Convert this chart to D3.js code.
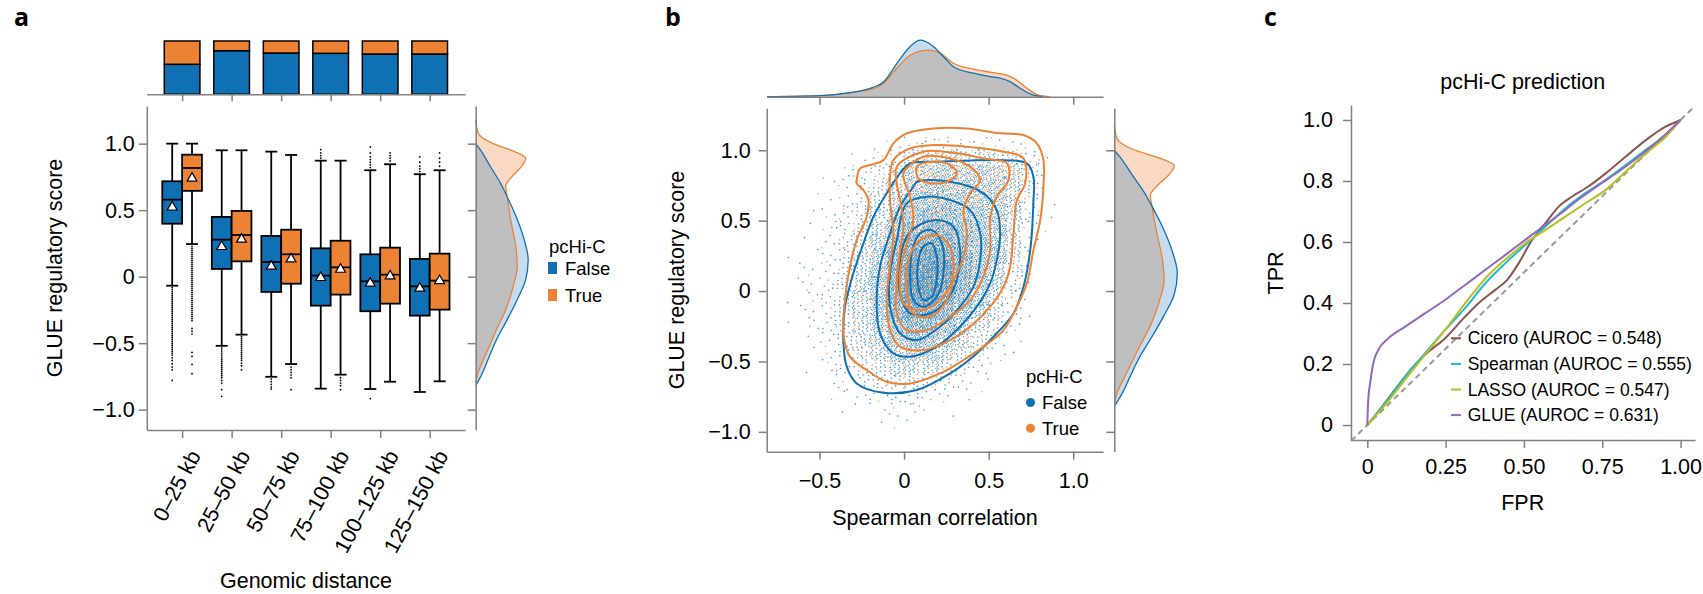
<!DOCTYPE html>
<html>
<head>
<meta charset="utf-8">
<script src="https://cdn.jsdelivr.net/npm/d3@7"></script>
<style>
  body { margin: 0; background: #fff; }
</style>
</head>
<body>
<div id="chart"></div>
<script>
// ---------- data ----------
const distanceBins = ["0–25 kb", "25–50 kb", "50–75 kb", "75–100 kb", "100–125 kb", "125–150 kb"];
const hicGroups = ["False", "True"];

// share of pcHi-C supported pairs per bin (top bars)
const trueFraction = [0.437, 0.182, 0.225, 0.231, 0.244, 0.244];

// box statistics, pcHi-C False
const whiskHiFalse = [1.0, 0.95, 0.94, 0.872, 0.8, 0.77];
const q3False = [0.717, 0.449, 0.306, 0.213, 0.168, 0.133];
const medFalse = [0.579, 0.278, 0.11, 0.008, -0.035, -0.073];
const q1False = [0.398, 0.058, -0.115, -0.218, -0.26, -0.293];
const whiskLoFalse = [-0.068, -0.52, -0.753, -0.842, -0.845, -0.867];
const meanFalse = [0.53, 0.233, 0.085, 0.0, -0.043, -0.08];

// box statistics, pcHi-C True
const whiskHiTrue = [1.0, 0.95, 0.915, 0.872, 0.845, 0.8];
const q3True = [0.917, 0.494, 0.353, 0.27, 0.218, 0.173];
const medTrue = [0.817, 0.313, 0.168, 0.07, 0.015, -0.03];
const q1True = [0.645, 0.115, -0.053, -0.135, -0.203, -0.248];
const whiskLoTrue = [0.245, -0.436, -0.657, -0.737, -0.79, -0.787];
const meanTrue = [0.747, 0.288, 0.14, 0.062, 0.012, -0.023];

// fliers
const fliersFalse = [
  [-0.08,-0.095,-0.11,-0.125,-0.14,-0.155,-0.17,-0.185,-0.2,-0.215,-0.23,-0.245,-0.26,-0.275,-0.29,-0.305,-0.32,-0.335,-0.35,-0.365,-0.38,-0.395,-0.41,-0.425,-0.44,-0.455,-0.47,-0.485,-0.5,-0.515,-0.53,-0.545,-0.56,-0.575,-0.59,-0.61,-0.63,-0.655,-0.68,-0.7,-0.78],
  [-0.535,-0.55,-0.565,-0.58,-0.595,-0.61,-0.625,-0.64,-0.655,-0.67,-0.685,-0.7,-0.715,-0.73,-0.745,-0.76,-0.78,-0.8,-0.85,-0.9],
  [-0.77,-0.79,-0.81,-0.83,-0.845],
  [0.89,0.91,0.93,0.955],
  [0.82,0.84,0.86,0.88,0.9,0.93,0.975,-0.917],
  [0.79,0.81,0.83,0.86,0.9]
];
const fliersTrue = [
  [0.225,0.21,0.195,0.18,0.165,0.15,0.135,0.12,0.105,0.09,0.075,0.06,0.045,0.03,0.015,0.0,-0.015,-0.03,-0.045,-0.06,-0.075,-0.09,-0.105,-0.12,-0.135,-0.15,-0.165,-0.18,-0.195,-0.21,-0.225,-0.24,-0.255,-0.27,-0.285,-0.3,-0.315,-0.33,-0.39,-0.41,-0.43,-0.57,-0.6,-0.66,-0.73],
  [-0.45,-0.465,-0.48,-0.495,-0.51,-0.525,-0.54,-0.555,-0.57,-0.585,-0.6,-0.615,-0.63,-0.65,-0.67,-0.7],
  [-0.68,-0.7,-0.72,-0.74,-0.76,-0.85],
  [-0.76,-0.78,-0.8,-0.82,-0.85],
  [0.87,0.89,0.91,0.93],
  [0.83,0.86,0.89,0.93]
];

// GLUE score density by pcHi-C (value, density)
const glueDensFalse = [[1.0,0],[0.955,0.09],[0.83,0.29],[0.7,0.5],[0.6,0.63],[0.45,0.81],[0.278,0.97],[0.128,1.05],[-0.023,1.0],[-0.173,0.83],[-0.323,0.63],[-0.47,0.42],[-0.62,0.25],[-0.72,0.14],[-0.82,0]];
const glueDensTrue = [[1.18,0],[1.08,0.05],[1.0,0.35],[0.955,0.68],[0.89,1.0],[0.83,0.92],[0.75,0.72],[0.68,0.6],[0.6,0.63],[0.45,0.69],[0.2,0.81],[0.077,0.83],[-0.073,0.75],[-0.22,0.63],[-0.42,0.39],[-0.57,0.22],[-0.72,0.05],[-0.8,0]];

// Spearman correlation density by pcHi-C (value, density)
const spearDensFalse = [[-0.81,0],[-0.497,0.02],[-0.32,0.08],[-0.18,0.19],[-0.12,0.3],[-0.043,0.66],[0.016,0.93],[0.095,1.13],[0.164,1.03],[0.233,0.8],[0.292,0.6],[0.41,0.47],[0.509,0.4],[0.568,0.37],[0.627,0.3],[0.686,0.17],[0.765,0.03],[0.82,0]];
const spearDensTrue = [[-0.81,0],[-0.497,0.02],[-0.32,0.08],[-0.18,0.16],[-0.12,0.27],[-0.043,0.57],[0.036,0.83],[0.145,0.93],[0.213,0.87],[0.292,0.67],[0.41,0.55],[0.528,0.48],[0.607,0.43],[0.667,0.33],[0.726,0.17],[0.795,0.03],[0.86,0]];

// binned scatter counts (rows top->bottom at gridY, columns at gridX, cell 0.1 x 0.1)
const gridX = [-0.65,-0.55,-0.45,-0.35,-0.25,-0.15,-0.05,0.05,0.15,0.25,0.35,0.45,0.55,0.65,0.75,0.85,0.95];
const gridY = [1.05,0.95,0.85,0.75,0.65,0.55,0.45,0.35,0.25,0.15,0.05,-0.05,-0.15,-0.25,-0.35,-0.45,-0.55,-0.65,-0.75,-0.85,-0.95];
const gridCounts = [
  [0,0,0,0,0,1,3,4,6,6,6,4,4,3,1,0,0],
  [0,0,0,1,1,4,8,17,22,24,22,21,20,15,6,1,0],
  [0,0,1,3,6,10,20,36,45,48,46,43,39,31,11,1,0],
  [0,0,1,3,7,13,25,42,50,50,48,45,41,31,10,1,0],
  [0,1,1,4,8,15,31,50,59,57,53,48,41,28,8,1,0],
  [0,1,3,6,11,20,39,62,73,70,62,52,42,25,7,1,0],
  [0,1,3,7,14,25,50,78,87,81,70,57,42,22,6,1,0],
  [0,1,4,8,17,32,64,95,104,95,78,60,42,20,4,0,0],
  [1,1,4,10,20,39,78,115,123,109,84,60,39,17,3,0,0],
  [1,3,4,11,22,45,90,129,134,118,87,57,34,13,3,0,0],
  [1,3,6,13,25,48,92,132,134,115,81,52,28,10,1,0,0],
  [1,3,6,13,25,48,90,123,123,101,67,41,21,7,1,0,0],
  [1,3,6,13,24,45,81,106,104,81,53,31,15,6,1,0,0],
  [1,3,6,11,22,39,67,84,78,59,39,21,10,4,0,0,0],
  [0,1,4,10,18,31,52,63,57,42,27,13,6,1,0,0,0],
  [0,1,4,8,14,24,36,42,36,27,15,7,3,1,0,0,0],
  [0,1,3,6,10,15,22,25,22,15,8,4,1,0,0,0,0],
  [0,0,1,3,6,10,13,14,11,7,4,1,0,0,0,0,0],
  [0,0,1,1,3,4,6,6,4,3,1,1,0,0,0,0,0],
  [0,0,0,1,1,1,3,3,1,1,0,0,0,0,0,0,0],
  [0,0,0,0,0,1,1,1,0,0,0,0,0,0,0,0,0]
];
const gridTrueShare = [0.5,0.45,0.4,0.32,0.26,0.22,0.2,0.18,0.17,0.16,0.16,0.16,0.16,0.17,0.18,0.2,0.2,0.2,0.2,0.2,0.2];

// density contour rings (Spearman, GLUE score)
const contoursFalse = [
  [[0.036,0.907],[0.193,0.919],[0.371,0.926],[0.548,0.93],[0.726,0.907],[0.765,0.812],[0.765,0.646],[0.746,0.291],[0.706,0.031],[0.647,-0.159],[0.548,-0.3],[0.43,-0.443],[0.272,-0.585],[0.075,-0.703],[-0.122,-0.722],[-0.28,-0.656],[-0.339,-0.537],[-0.359,-0.348],[-0.349,-0.111],[-0.3,0.126],[-0.24,0.339],[-0.181,0.528],[-0.103,0.694],[-0.024,0.836]],
  [[0.075,0.776],[0.272,0.776],[0.469,0.694],[0.548,0.575],[0.568,0.41],[0.548,0.22],[0.509,0.055],[0.43,-0.111],[0.331,-0.253],[0.193,-0.395],[0.036,-0.466],[-0.063,-0.443],[-0.142,-0.3],[-0.162,-0.064],[-0.142,0.173],[-0.083,0.41],[-0.024,0.599],[0.055,0.741]],
  [[0.016,0.623],[0.134,0.67],[0.272,0.646],[0.391,0.575],[0.45,0.41],[0.45,0.22],[0.41,0.031],[0.331,-0.111],[0.213,-0.253],[0.075,-0.348],[-0.024,-0.3],[-0.083,-0.111],[-0.083,0.126],[-0.043,0.362]],
  [[0.075,0.457],[0.193,0.504],[0.292,0.457],[0.331,0.291],[0.312,0.078],[0.253,-0.064],[0.154,-0.159],[0.036,-0.159],[-0.024,-0.017],[-0.024,0.22],[0.016,0.386]],
  [[0.095,0.41],[0.164,0.433],[0.223,0.339],[0.233,0.126],[0.193,-0.04],[0.114,-0.111],[0.055,-0.064],[0.036,0.126],[0.055,0.315]],
  [[0.114,0.315],[0.164,0.339],[0.193,0.244],[0.193,0.078],[0.164,-0.04],[0.114,-0.064],[0.085,0.031],[0.085,0.22]]
];
const contoursTrue = [
  [[-0.28,0.788],[-0.26,0.871],[-0.201,0.895],[-0.122,0.93],[-0.063,1.049],[0.016,1.12],[0.174,1.155],[0.371,1.155],[0.568,1.12],[0.706,1.108],[0.785,1.049],[0.824,0.93],[0.824,0.741],[0.805,0.504],[0.765,0.291],[0.726,0.055],[0.667,-0.111],[0.588,-0.277],[0.469,-0.395],[0.351,-0.49],[0.213,-0.585],[0.036,-0.656],[-0.103,-0.644],[-0.221,-0.561],[-0.32,-0.466],[-0.359,-0.3],[-0.349,-0.064],[-0.32,0.173],[-0.28,0.362],[-0.221,0.528],[-0.211,0.646],[-0.24,0.717],[-0.28,0.765]],
  [[-0.063,0.93],[0.036,1.013],[0.193,1.037],[0.371,1.025],[0.588,0.99],[0.706,0.942],[0.716,0.765],[0.667,0.646],[0.647,0.41],[0.627,0.173],[0.588,0.031],[0.509,-0.111],[0.391,-0.253],[0.272,-0.348],[0.114,-0.419],[-0.024,-0.395],[-0.083,-0.277],[-0.103,-0.064],[-0.083,0.173],[-0.063,0.41],[-0.083,0.646],[-0.083,0.812]],
  [[-0.043,0.883],[0.114,0.99],[0.312,0.978],[0.469,0.942],[0.608,0.907],[0.617,0.788],[0.548,0.67],[0.509,0.528],[0.509,0.291],[0.469,0.102],[0.391,-0.064],[0.272,-0.182],[0.134,-0.277],[0.016,-0.277],[-0.043,-0.159],[-0.043,0.055],[-0.024,0.291],[-0.004,0.457],[-0.024,0.646],[-0.043,0.765]],
  [[-0.004,0.836],[0.114,0.954],[0.272,0.942],[0.391,0.883],[0.45,0.788],[0.391,0.694],[0.351,0.575],[0.371,0.41],[0.351,0.244],[0.292,0.078],[0.193,-0.088],[0.075,-0.135],[-0.004,-0.088],[-0.024,0.126],[0.016,0.339],[0.055,0.504],[0.036,0.67],[0.006,0.765]],
  [[0.075,0.883],[0.174,0.919],[0.272,0.895],[0.312,0.836],[0.253,0.776],[0.154,0.765],[0.085,0.8]],
  [[0.095,0.362],[0.193,0.398],[0.272,0.315],[0.292,0.126],[0.253,-0.064],[0.154,-0.182],[0.055,-0.159],[0.016,0.007],[0.026,0.22]]
];

// ROC curves (FPR, TPR)
const rocMethods = ["Cicero", "Spearman", "LASSO", "GLUE"];
const rocAuroc = [0.548, 0.555, 0.547, 0.631];
const rocCicero = [[0,0],[0.035,0.044],[0.088,0.115],[0.142,0.186],[0.195,0.24],[0.248,0.284],[0.302,0.344],[0.355,0.399],[0.408,0.443],[0.446,0.475],[0.483,0.53],[0.526,0.607],[0.568,0.661],[0.611,0.716],[0.654,0.749],[0.697,0.776],[0.761,0.825],[0.825,0.88],[0.889,0.934],[0.952,0.978],[1,1]];
const rocSpearman = [[0,0],[0.057,0.071],[0.12,0.158],[0.184,0.235],[0.248,0.311],[0.312,0.383],[0.376,0.464],[0.44,0.53],[0.504,0.59],[0.568,0.65],[0.632,0.71],[0.696,0.76],[0.76,0.803],[0.825,0.852],[0.889,0.902],[0.953,0.951],[1,1]];
const rocLasso = [[0,0],[0.057,0.066],[0.12,0.148],[0.184,0.23],[0.248,0.311],[0.312,0.399],[0.387,0.492],[0.451,0.552],[0.504,0.596],[0.568,0.639],[0.632,0.683],[0.696,0.727],[0.76,0.77],[0.825,0.831],[0.889,0.891],[0.953,0.945],[1,1]];
const rocGlue = [[0,0],[0.003,0.082],[0.009,0.137],[0.019,0.202],[0.035,0.246],[0.067,0.284],[0.12,0.322],[0.184,0.366],[0.248,0.41],[0.312,0.459],[0.376,0.508],[0.44,0.557],[0.504,0.607],[0.568,0.656],[0.632,0.705],[0.675,0.74],[0.739,0.787],[0.803,0.831],[0.867,0.88],[0.931,0.934],[1,1]];

// ---------- styles ----------
const font = "'Liberation Sans', Arial, Helvetica, sans-serif";
const axisColor = "#808080";
const blue = "#0f71b3";
const orange = "#ec8234";
const blueFill = "#c6dcee";
const orangeFill = "#f9d9c4";
const overlapFill = "#bfbfbf";
const rocColors = ["#8c564b", "#17becf", "#bcbd22", "#9467bd"];
const tickFmt = (d) => (d === 0 ? "0" : d3.format(".1f")(d));

const svg = d3.select("#chart").append("svg")
  .attr("width", 1703)
  .attr("height", 594)
  .attr("font-family", font);

function styleAxis(g, size) {
  g.attr("font-family", font).attr("font-size", size || 21.5);
  g.select(".domain").attr("stroke", axisColor).attr("stroke-width", 1.5);
  g.selectAll(".tick line").attr("stroke", axisColor).attr("stroke-width", 1.5);
  g.selectAll(".tick text").attr("fill", "#000");
}

function panelLetter(x, t) {
  svg.append("text").attr("x", x).attr("y", 26)
    .attr("font-family", "'Open Sans', 'DejaVu Sans', sans-serif")
    .attr("font-weight", "bold").attr("font-size", 25).text(t);
}

// draws two overlapping densities, overlap in gray
function densityPair(g, dFalse, dTrue, area, id) {
  g.append("clipPath").attr("id", id).append("path").attr("d", area(dFalse));
  g.append("path").attr("d", area(dFalse)).attr("fill", blueFill);
  g.append("path").attr("d", area(dTrue)).attr("fill", orangeFill);
  g.append("path").attr("d", area(dTrue)).attr("fill", overlapFill).attr("clip-path", `url(#${id})`);
}

// ================= panel a =================
panelLetter(14, "a");

const xA = d3.scaleLinear().domain([-0.713, 5.713]).range([146.8, 465]);
const yA = d3.scaleLinear().domain([-1.153, 1.283]).range([430, 106]);
const fracA = d3.scaleLinear().domain([0, 1]).range([94.3, 41]);

// top stacked bars
const gBars = svg.append("g");
distanceBins.forEach((bin, i) => {
  const x0 = xA(i - 0.36), w = xA(0.72) - xA(0);
  gBars.append("rect").attr("x", x0).attr("width", w)
    .attr("y", fracA(1 - trueFraction[i])).attr("height", fracA(0) - fracA(1 - trueFraction[i]))
    .attr("fill", blue).attr("stroke", "#000").attr("stroke-width", 1.5);
  gBars.append("rect").attr("x", x0).attr("width", w)
    .attr("y", fracA(1)).attr("height", fracA(1 - trueFraction[i]) - fracA(1))
    .attr("fill", orange).attr("stroke", "#000").attr("stroke-width", 1.5);
});
gBars.append("g").attr("transform", "translate(0,94.3)")
  .call(d3.axisBottom(xA).tickValues(d3.range(6)).tickFormat("").tickSize(7).tickSizeOuter(0))
  .call(styleAxis);

// axes of main box panel
svg.append("g").attr("transform", "translate(146.8,0)")
  .call(d3.axisLeft(yA).tickValues([-1, -0.5, 0, 0.5, 1]).tickFormat(tickFmt).tickSize(8).tickSizeOuter(0).tickPadding(4))
  .call(styleAxis);

const xAxisA = svg.append("g").attr("transform", "translate(0,430)")
  .call(d3.axisBottom(xA).tickValues(d3.range(6)).tickFormat((i) => distanceBins[i]).tickSize(8).tickSizeOuter(0))
  .call(styleAxis);
xAxisA.selectAll(".tick text")
  .attr("x", 0).attr("y", 0).attr("dy", "0.35em")
  .attr("text-anchor", "end")
  .attr("transform", "translate(12,22) rotate(-62)");

svg.append("text").attr("x", 306).attr("y", 588).attr("text-anchor", "middle")
  .attr("font-size", 21.5).text("Genomic distance");
svg.append("text").attr("transform", "translate(62,268) rotate(-90)").attr("text-anchor", "middle")
  .attr("font-size", 21.5).text("GLUE regulatory score");

// boxes
const boxes = distanceBins.flatMap((bin, i) => [
  { i, hue: "False", off: -0.2, lo: whiskLoFalse[i], q1: q1False[i], med: medFalse[i], q3: q3False[i], hi: whiskHiFalse[i], mean: meanFalse[i], fliers: fliersFalse[i] },
  { i, hue: "True", off: 0.2, lo: whiskLoTrue[i], q1: q1True[i], med: medTrue[i], q3: q3True[i], hi: whiskHiTrue[i], mean: meanTrue[i], fliers: fliersTrue[i] }
]);
const halfBox = xA(0.2) - xA(0);
const gBox = svg.append("g");
boxes.forEach((b) => {
  const cx = xA(b.i + b.off);
  const col = b.hue === "False" ? blue : orange;
  const g = gBox.append("g").attr("stroke", "#000").attr("stroke-width", 1.8);
  g.append("line").attr("x1", cx).attr("x2", cx).attr("y1", yA(b.q3)).attr("y2", yA(b.hi));
  g.append("line").attr("x1", cx).attr("x2", cx).attr("y1", yA(b.q1)).attr("y2", yA(b.lo));
  g.append("line").attr("x1", cx - 6).attr("x2", cx + 6).attr("y1", yA(b.hi)).attr("y2", yA(b.hi));
  g.append("line").attr("x1", cx - 6).attr("x2", cx + 6).attr("y1", yA(b.lo)).attr("y2", yA(b.lo));
  g.append("rect").attr("x", cx - halfBox).attr("width", 2 * halfBox)
    .attr("y", yA(b.q3)).attr("height", yA(b.q1) - yA(b.q3)).attr("fill", col);
  g.append("line").attr("x1", cx - halfBox).attr("x2", cx + halfBox).attr("y1", yA(b.med)).attr("y2", yA(b.med));
  g.selectAll("circle").data(b.fliers).join("circle")
    .attr("cx", cx).attr("cy", (d) => yA(d)).attr("r", 0.9)
    .attr("fill", "#000").attr("stroke", "none");
  g.append("path").attr("d", d3.symbol(d3.symbolTriangle).size(42)())
    .attr("transform", `translate(${cx},${yA(b.mean) + 1})`)
    .attr("fill", "#fff").attr("stroke-width", 1.2);
});

// marginal density (GLUE score)
const densA = d3.scaleLinear().domain([0, 1]).range([475.7, 525.7]);
const areaA = d3.area().curve(d3.curveMonotoneY)
  .y((d) => yA(d[0])).x0(densA(0)).x1((d) => densA(d[1]));
const lineA = d3.line().curve(d3.curveMonotoneY).y((d) => yA(d[0])).x((d) => densA(d[1]));
const gMargA = svg.append("g");
const sortV = (arr) => arr.slice().sort((a, b) => a[0] - b[0]);
densityPair(gMargA, sortV(glueDensFalse), sortV(glueDensTrue), areaA, "clipA");
gMargA.append("path").attr("d", lineA(sortV(glueDensTrue))).attr("fill", "none").attr("stroke", orange).attr("stroke-width", 1.3);
gMargA.append("path").attr("d", lineA(sortV(glueDensFalse))).attr("fill", "none").attr("stroke", blue).attr("stroke-width", 1.3);
gMargA.append("g").attr("transform", "translate(475.7,0)")
  .call(d3.axisLeft(yA).tickValues([-1, -0.5, 0, 0.5, 1]).tickFormat("").tickSize(8).tickSizeOuter(0))
  .call(styleAxis);

// legend a
const legA = svg.append("g").attr("font-size", 18.5);
legA.append("text").attr("x", 549).attr("y", 253).text("pcHi-C");
hicGroups.forEach((h, k) => {
  legA.append("rect").attr("x", 548).attr("y", 262 + k * 27).attr("width", 9).attr("height", 12)
    .attr("fill", k ? orange : blue);
  legA.append("text").attr("x", 565).attr("y", 275 + k * 27).text(h);
});

// ================= panel b =================
panelLetter(665, "b");

const xB = d3.scaleLinear().domain([-0.812, 1.176]).range([766.7, 1103]);
const yB = d3.scaleLinear().domain([-1.141, 1.298]).range([451.7, 108.3]);

// scatter rendered from binned counts
const dots = [];
let n = 0;
gridCounts.forEach((row, r) => {
  row.forEach((count, c) => {
    for (let k = 0; k < count; k++) {
      n++;
      const ux = (0.5 + n * 0.7548776662) % 1;
      const uy = (0.5 + n * 0.5698402910) % 1;
      const isTrue = ((n * 0.6180339887) % 1) < gridTrueShare[r];
      dots.push({ x: gridX[c] - 0.05 + 0.1 * ux, y: gridY[r] - 0.05 + 0.1 * uy, hue: isTrue ? "True" : "False" });
    }
  });
});
svg.append("g").selectAll("circle").data(dots).join("circle")
  .attr("cx", (d) => xB(d.x)).attr("cy", (d) => yB(d.y)).attr("r", 0.8)
  .attr("fill", (d) => (d.hue === "True" ? orange : blue)).attr("fill-opacity", 0.75);

// contours
const ring = d3.line().x((d) => xB(d[0])).y((d) => yB(d[1])).curve(d3.curveCatmullRomClosed.alpha(0.5));
svg.append("g").selectAll("path").data(contoursFalse).join("path")
  .attr("d", ring).attr("fill", "none").attr("stroke", blue).attr("stroke-width", 2);
svg.append("g").selectAll("path").data(contoursTrue).join("path")
  .attr("d", ring).attr("fill", "none").attr("stroke", orange).attr("stroke-width", 2);

// axes
svg.append("g").attr("transform", "translate(766.7,0)")
  .call(d3.axisLeft(yB).tickValues([-1, -0.5, 0, 0.5, 1]).tickFormat(tickFmt).tickSize(8).tickSizeOuter(0).tickPadding(8))
  .call(styleAxis);
svg.append("g").attr("transform", "translate(0,451.7)")
  .call(d3.axisBottom(xB).tickValues([-0.5, 0, 0.5, 1]).tickFormat(tickFmt).tickSize(8).tickSizeOuter(0).tickPadding(13))
  .call(styleAxis);
svg.append("text").attr("x", 935).attr("y", 525).attr("text-anchor", "middle")
  .attr("font-size", 21.5).text("Spearman correlation");
svg.append("text").attr("transform", "translate(684,280) rotate(-90)").attr("text-anchor", "middle")
  .attr("font-size", 21.5).text("GLUE regulatory score");

// top marginal (Spearman)
const densBT = d3.scaleLinear().domain([0, 1]).range([96.7, 46.7]);
const areaBT = d3.area().curve(d3.curveMonotoneX)
  .x((d) => xB(d[0])).y0(densBT(0)).y1((d) => densBT(d[1]));
const lineBT = d3.line().curve(d3.curveMonotoneX).x((d) => xB(d[0])).y((d) => densBT(d[1]));
const gTop = svg.append("g");
densityPair(gTop, spearDensFalse, spearDensTrue, areaBT, "clipBT");
gTop.append("path").attr("d", lineBT(spearDensTrue)).attr("fill", "none").attr("stroke", orange).attr("stroke-width", 1.3);
gTop.append("path").attr("d", lineBT(spearDensFalse)).attr("fill", "none").attr("stroke", blue).attr("stroke-width", 1.3);
gTop.append("g").attr("transform", "translate(0,96.7)")
  .call(d3.axisBottom(xB).tickValues([-0.5, 0, 0.5, 1]).tickFormat("").tickSize(8).tickSizeOuter(0))
  .call(styleAxis);

// right marginal (GLUE score)
const densBR = d3.scaleLinear().domain([0, 1]).range([1114.3, 1174.3]);
const areaBR = d3.area().curve(d3.curveMonotoneY)
  .y((d) => yB(d[0])).x0(densBR(0)).x1((d) => densBR(d[1]));
const lineBR = d3.line().curve(d3.curveMonotoneY).y((d) => yB(d[0])).x((d) => densBR(d[1]));
const gRight = svg.append("g");
densityPair(gRight, sortV(glueDensFalse), sortV(glueDensTrue), areaBR, "clipBR");
gRight.append("path").attr("d", lineBR(sortV(glueDensTrue))).attr("fill", "none").attr("stroke", orange).attr("stroke-width", 1.3);
gRight.append("path").attr("d", lineBR(sortV(glueDensFalse))).attr("fill", "none").attr("stroke", blue).attr("stroke-width", 1.3);
gRight.append("g").attr("transform", "translate(1114.3,0)")
  .call(d3.axisLeft(yB).tickValues([-1, -0.5, 0, 0.5, 1]).tickFormat("").tickSize(8).tickSizeOuter(0))
  .call(styleAxis);

// legend b
const legB = svg.append("g").attr("font-size", 18.5);
legB.append("text").attr("x", 1026).attr("y", 383).text("pcHi-C");
hicGroups.forEach((h, k) => {
  legB.append("circle").attr("cx", 1030.5).attr("cy", 402.5 + k * 25.8).attr("r", 4.5).attr("fill", k ? orange : blue);
  legB.append("text").attr("x", 1042).attr("y", 409 + k * 25.8).text(h);
});

// ================= panel c =================
panelLetter(1264, "c");

const xC = d3.scaleLinear().domain([-0.052, 1.046]).range([1351, 1695]);
const yC = d3.scaleLinear().domain([-0.049, 1.049]).range([440, 105]);

svg.append("g").attr("transform", "translate(1351,0)")
  .call(d3.axisLeft(yC).tickValues([0, 0.2, 0.4, 0.6, 0.8, 1]).tickFormat(tickFmt).tickSize(8).tickSizeOuter(0).tickPadding(10))
  .call(styleAxis);
svg.append("g").attr("transform", "translate(0,440)")
  .call(d3.axisBottom(xC).tickValues([0, 0.25, 0.5, 0.75, 1]).tickFormat((d) => (d === 0 ? "0" : d3.format(".2f")(d))).tickSize(8).tickSizeOuter(0).tickPadding(11))
  .call(styleAxis);

svg.append("line")
  .attr("x1", xC(-0.052)).attr("y1", yC(-0.052)).attr("x2", xC(1.046)).attr("y2", yC(1.046))
  .attr("stroke", "#999").attr("stroke-width", 2).attr("stroke-dasharray", "6,4");

const rocSeries = [rocCicero, rocSpearman, rocLasso, rocGlue];
const rocLine = d3.line().x((d) => xC(d[0])).y((d) => yC(d[1])).curve(d3.curveMonotoneX);
svg.append("g").selectAll("path").data(rocSeries).join("path")
  .attr("d", rocLine).attr("fill", "none")
  .attr("stroke", (d, i) => rocColors[i]).attr("stroke-width", 2);

svg.append("text").attr("x", 1522.7).attr("y", 89).attr("text-anchor", "middle")
  .attr("font-size", 21.5).text("pcHi-C prediction");
svg.append("text").attr("x", 1522.7).attr("y", 510).attr("text-anchor", "middle")
  .attr("font-size", 21.5).text("FPR");
svg.append("text").attr("transform", "translate(1283,273) rotate(-90)").attr("text-anchor", "middle")
  .attr("font-size", 21.5).text("TPR");

// legend c
const legC = svg.append("g").attr("font-size", 17.5);
rocMethods.forEach((m, i) => {
  const y = 338.3 + i * 25.6;
  legC.append("line").attr("x1", 1451).attr("x2", 1461).attr("y1", y).attr("y2", y)
    .attr("stroke", rocColors[i]).attr("stroke-width", 2);
  legC.append("text").attr("x", 1467.7).attr("y", y + 6).text(`${m} (AUROC = ${rocAuroc[i].toFixed(3)})`);
});
</script>
</body>
</html>
